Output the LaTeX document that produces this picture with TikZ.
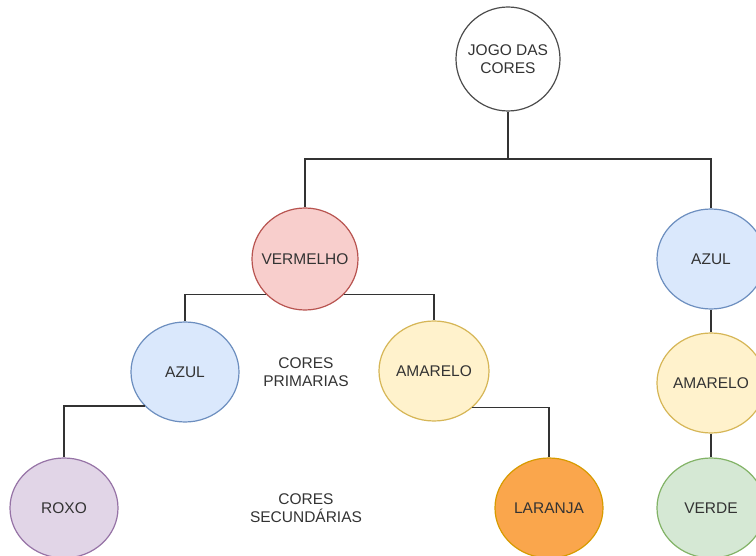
\documentclass[tikz,border=0pt]{standalone}
\usepackage{fontspec}
\setmainfont{Liberation Sans}
\usetikzlibrary{shapes.geometric}
\definecolor{redF}{HTML}{F8CECC}\definecolor{redS}{HTML}{B85450}
\definecolor{bluF}{HTML}{DAE8FC}\definecolor{bluS}{HTML}{6C8EBF}
\definecolor{yelF}{HTML}{FFF2CC}\definecolor{yelS}{HTML}{D6B656}
\definecolor{purF}{HTML}{E1D5E7}\definecolor{purS}{HTML}{9673A6}
\definecolor{greF}{HTML}{D5E8D4}\definecolor{greS}{HTML}{82B366}
\definecolor{oraF}{HTML}{FAA64C}\definecolor{oraS}{HTML}{D79B00}
\definecolor{txt}{HTML}{333333}
\begin{document}
\begin{tikzpicture}[x=1pt,y=-1pt,
  bubble/.style={ellipse,draw,line width=1.2pt,inner xsep=-30pt,inner ysep=-12pt,minimum width=108pt,minimum height=100pt,
    text=txt,font=\fontsize{15.5}{17.5}\selectfont,align=center},
  plain/.style={text=txt,font=\fontsize{15.5}{17.5}\selectfont,align=center,inner sep=0pt},
  conn/.style={draw=black!80,line width=1.2pt}]
\clip (0,0) rectangle (756,556);
\fill[white] (0,0) rectangle (756,556);
\node[bubble,draw=black!70,fill=white,minimum width=104pt,minimum height=104pt] (jogo) at (508,59) {JOGO DAS\\CORES};
\node[bubble,fill=redF,draw=redS,minimum width=106pt,minimum height=102pt] (verm) at (305,259) {VERMELHO};
\node[bubble,fill=bluF,draw=bluS] (azulL) at (185,372) {AZUL};
\node[bubble,fill=yelF,draw=yelS,minimum width=110pt] (amarL) at (434,371) {AMARELO};
\node[bubble,fill=purF,draw=purS] (roxo) at (64,508) {ROXO};
\node[bubble,fill=oraF,draw=oraS] (laranja) at (549,508) {LARANJA};
\node[bubble,fill=bluF,draw=bluS] (azulR) at (711,259) {AZUL};
\node[bubble,fill=yelF,draw=yelS] (amarR) at (711,383) {AMARELO};
\node[bubble,fill=greF,draw=greS] (verde) at (711,508) {VERDE};
\node[plain] (prim) at (306,372) {CORES\\PRIMARIAS};
\node[plain] (sec) at (306,508) {CORES\\SECUNDÁRIAS};
\coordinate (bar) at (508,159);
\draw[conn] (jogo.south) -- (bar);
\draw[conn] (bar) -| (verm.north);
\draw[conn] (bar) -| (azulR.north);
\draw[conn] (verm.222) -| (azulL.north);
\draw[conn] (verm.318) -| (amarL.north);
\draw[conn] (azulL.220.6) -| (roxo.north);
\draw[conn] (amarL.316.7) -| (laranja.north);
\draw[conn] (azulR.south) -- (amarR.north);
\draw[conn] (amarR.south) -- (verde.north);
\end{tikzpicture}
\end{document}
